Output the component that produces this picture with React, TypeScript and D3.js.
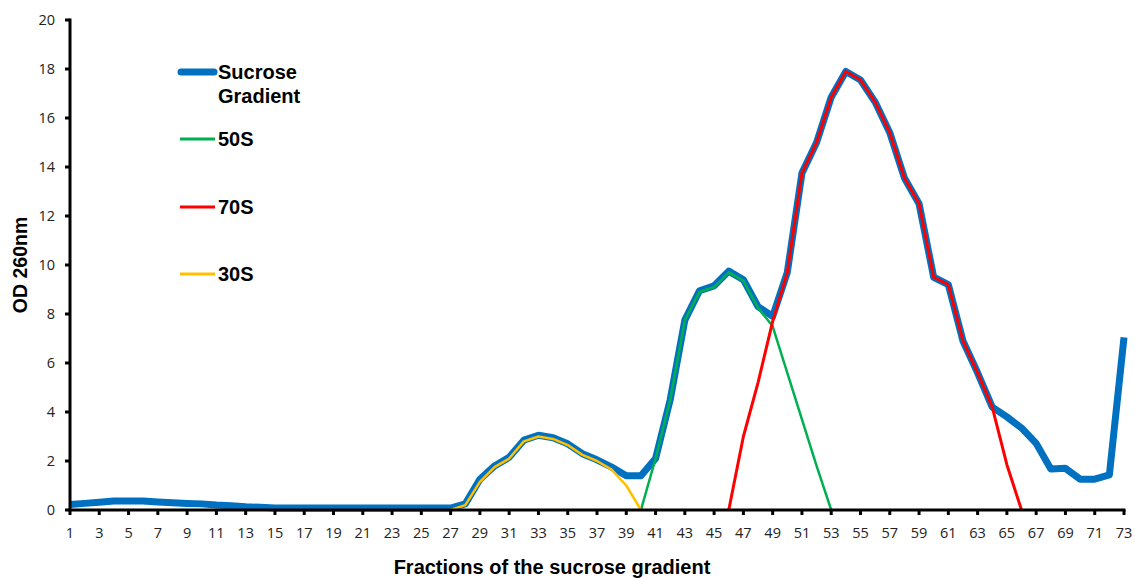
import React from "react";
import * as d3 from "d3";

const fractions: number[] = [
  1, 2, 3, 4, 5, 6, 7, 8, 9, 10, 11, 12, 13, 14, 15, 16, 17, 18, 19, 20, 21, 22, 23, 24, 25,
  26, 27, 28, 29, 30, 31, 32, 33, 34, 35, 36, 37, 38, 39, 40, 41, 42, 43, 44, 45, 46, 47, 48,
  49, 50, 51, 52, 53, 54, 55, 56, 57, 58, 59, 60, 61, 62, 63, 64, 65, 66, 67, 68, 69, 70, 71,
  72, 73,
];

const sucrose: number[] = [
  0.22, 0.27, 0.32, 0.37, 0.37, 0.37, 0.33, 0.3, 0.27, 0.25, 0.2, 0.17, 0.13, 0.11, 0.08,
  0.08, 0.08, 0.08, 0.08, 0.08, 0.08, 0.08, 0.08, 0.08, 0.08, 0.08, 0.08, 0.25, 1.25, 1.8,
  2.15, 2.85, 3.05, 2.95, 2.7, 2.3, 2.05, 1.75, 1.4, 1.4, 2.1, 4.5, 7.75, 8.95, 9.15, 9.75,
  9.4, 8.3, 7.9, 9.7, 13.75, 15.0, 16.85, 17.9, 17.55, 16.65, 15.4, 13.55, 12.5, 9.5, 9.2,
  6.9, 5.6, 4.2, 3.8, 3.35, 2.72, 1.67, 1.7, 1.26, 1.26, 1.43, 7.05,
];

const s50Fractions: number[] = [40, 41, 42, 43, 44, 45, 46, 47, 48, 49, 50, 51, 52, 53];
const s50: number[] = [0, 2.1, 4.5, 7.75, 8.9, 9.1, 9.7, 9.35, 8.25, 7.5, 5.6, 3.7, 1.8, 0];

const s70Fractions: number[] = [
  46, 47, 48, 49, 50, 51, 52, 53, 54, 55, 56, 57, 58, 59, 60, 61, 62, 63, 64, 65, 66,
];
const s70: number[] = [
  0, 3.0, 5.2, 7.7, 9.7, 13.75, 15.0, 16.85, 17.9, 17.55, 16.65, 15.4, 13.55, 12.5, 9.5, 9.2,
  6.9, 5.6, 4.2, 1.85, 0,
];

const s30Fractions: number[] = [27, 28, 29, 30, 31, 32, 33, 34, 35, 36, 37, 38, 39, 40];
const s30: number[] = [0, 0.2, 1.15, 1.75, 2.1, 2.8, 3.0, 2.9, 2.65, 2.25, 2.0, 1.65, 1.0, 0];

const yTicks: number[] = [0, 2, 4, 6, 8, 10, 12, 14, 16, 18, 20];
const xTickLabels: number[] = fractions.filter((f) => f % 2 === 1);

const legendItems = [
  { label: ["Sucrose", "Gradient"], color: "#0070C0", width: 7 },
  { label: ["50S"], color: "#00B050", width: 3 },
  { label: ["70S"], color: "#FF0000", width: 3 },
  { label: ["30S"], color: "#FFC000", width: 3 },
];

export default function App() {
  const W = 1135;
  const H = 579;
  const x = d3.scaleLinear().domain([1, 73]).range([70, 1124]);
  const y = d3.scaleLinear().domain([0, 20]).range([510, 20]);

  const line = d3
    .line<[number, number]>()
    .x((d) => x(d[0]))
    .y((d) => y(d[1]));

  const zip = (fs: number[], vs: number[]) =>
    fs.map((f, i) => [f, vs[i]] as [number, number]);

  const series = [
    { pts: zip(fractions, sucrose), color: "#0070C0", width: 7 },
    { pts: zip(s50Fractions, s50), color: "#00B050", width: 2.5 },
    { pts: zip(s70Fractions, s70), color: "#FF0000", width: 3 },
    { pts: zip(s30Fractions, s30), color: "#FFC000", width: 2.5 },
  ];

  const legendY = [72, 139, 207, 274];

  return (
    <svg
      width={W}
      height={H}
      style={{ position: "absolute", left: 0, top: 0, background: "#fff" }}
    >
      {series.map((s, i) => (
        <path
          key={i}
          d={line(s.pts) || ""}
          fill="none"
          stroke={s.color}
          strokeWidth={s.width}
          strokeLinejoin="round"
          strokeLinecap="butt"
        />
      ))}

      {/* y axis */}
      <line x1={x(1)} x2={x(1)} y1={y(20) - 1.5} y2={y(0) + 1.5} stroke="#000" strokeWidth={3} />
      {yTicks.map((t) => (
        <g key={t}>
          <line x1={x(1) - 5} x2={x(1)} y1={y(t)} y2={y(t)} stroke="#000" strokeWidth={3} />
          <text
            x={55}
            y={y(t)}
            dy="0.35em"
            textAnchor="end"
            fontFamily="'Open Sans', sans-serif"
            fontSize={14.5}
            fill="#222"
          >
            {t}
          </text>
        </g>
      ))}

      {/* x axis */}
      <line x1={x(1) - 1.5} x2={x(73) + 1.5} y1={y(0)} y2={y(0)} stroke="#000" strokeWidth={3} />
      {xTickLabels.map((f) => (
        <g key={f}>
          <line x1={x(f)} x2={x(f)} y1={y(0)} y2={y(0) + 5} stroke="#000" strokeWidth={3} />
          <text
            x={x(f)}
            y={538}
            textAnchor="middle"
            fontFamily="'Open Sans', sans-serif"
            fontSize={14.5}
            fill="#222"
          >
            {f}
          </text>
        </g>
      ))}

      {/* axis titles */}
      <text
        x={552}
        y={574}
        textAnchor="middle"
        fontFamily="'Liberation Sans', Arial, sans-serif"
        fontWeight="bold"
        fontSize={20}
        fill="#000"
      >
        Fractions of the sucrose gradient
      </text>
      <text
        transform={`translate(27,265) rotate(-90)`}
        textAnchor="middle"
        fontFamily="'Liberation Sans', Arial, sans-serif"
        fontWeight="bold"
        fontSize={19.5}
        fill="#000"
      >
        OD 260nm
      </text>

      {/* legend */}
      {legendItems.map((item, i) => (
        <g key={i}>
          <line
            x1={item.width > 5 ? 181 : 180}
            x2={item.width > 5 ? 214 : 215}
            y1={legendY[i]}
            y2={legendY[i]}
            stroke={item.color}
            strokeWidth={item.width}
            strokeLinecap={item.width > 5 ? "round" : "butt"}
          />
          {item.label.map((l, j) => (
            <text
              key={j}
              x={218}
              y={legendY[i] + 7 + j * 24}
              fontFamily="'Liberation Sans', Arial, sans-serif"
              fontWeight="bold"
              fontSize={20}
              fill="#000"
            >
              {l}
            </text>
          ))}
        </g>
      ))}
    </svg>
  );
}
